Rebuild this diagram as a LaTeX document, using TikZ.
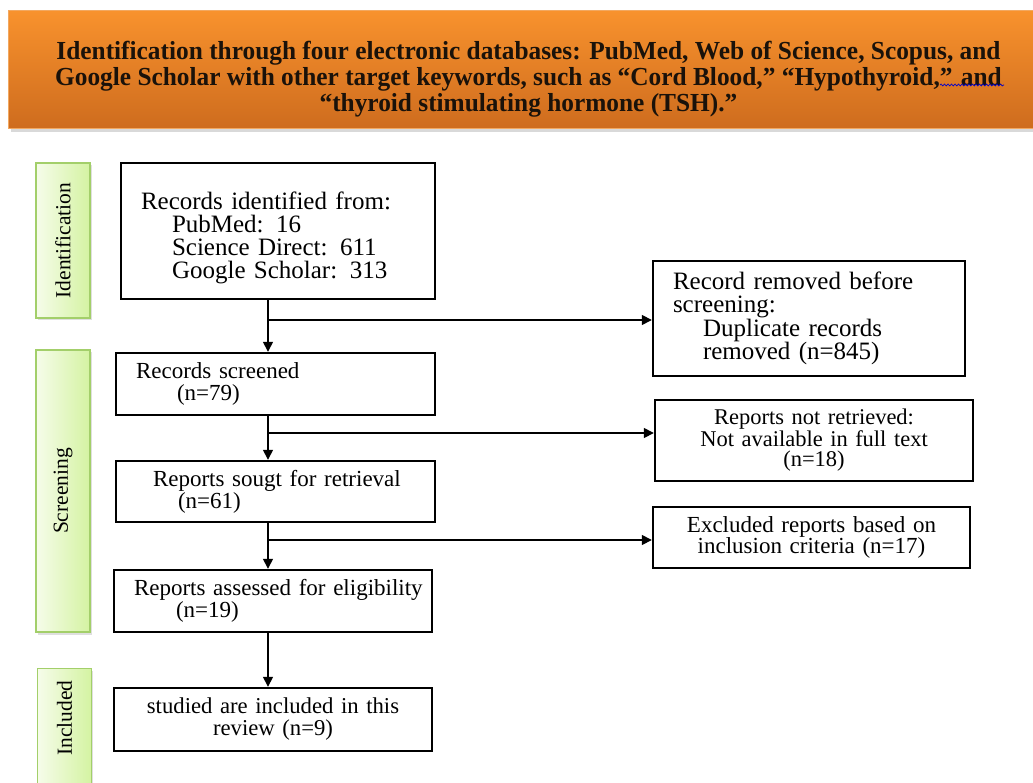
\documentclass[tikz,border=0pt]{standalone}
\usepackage{fontspec}
\setmainfont{Liberation Serif}
\usetikzlibrary{arrows.meta,shadows,decorations.pathmorphing}
\definecolor{orTop}{HTML}{F8922D}
\definecolor{orBot}{HTML}{CE6C1E}
\definecolor{orEdge}{HTML}{F2A860}
\definecolor{grL}{HTML}{F6FCEA}
\definecolor{grR}{HTML}{D4F3A2}
\definecolor{grEdge}{HTML}{A3CF6A}
\definecolor{titleInk}{HTML}{1A120A}
\begin{document}
\begin{tikzpicture}[x=1pt,y=-1pt,
  txt/.style={font=\fontsize{23}{22.5}\selectfont},
  bigtxt/.style={font=\fontsize{25}{23}\selectfont},
  box/.style={draw=black,line width=2.4pt,txt,inner xsep=20pt,inner ysep=0pt},
  lbox/.style={draw=grEdge,line width=1.3pt,left color=grL,right color=grR,
     minimum width=54pt,drop shadow={shadow xshift=1.5pt,shadow yshift=-2.5pt,opacity=0.25}},
  ltxt/.style={rotate=90,font=\fontsize{21.5}{24}\selectfont},
  conn/.style={line width=1.5pt,-{Triangle[width=10pt,length=10pt]}},
  branch/.style={line width=1.5pt}
]
\useasboundingbox (0,0) rectangle (1033,783);
\clip (0,0) rectangle (1033,783);

% banner
\node[draw=orEdge,line width=1pt,top color=orTop,bottom color=orBot,
  minimum width=1040pt,minimum height=118pt,inner sep=0pt,anchor=north west,
  drop shadow={shadow xshift=2pt,shadow yshift=-4pt,opacity=0.3}] (banner) at (8,10) {};
\node[text=titleInk,align=center,inner sep=0pt] (title) at (528.5,80)
  {\scalebox{0.975}[1]{\fontsize{26}{25.5}\selectfont\bfseries
   \begin{tabular}{@{}c@{}}
   Identification through four electronic databases: PubMed, Web of Science, Scopus, and\\
   Google Scholar with other target keywords, such as “Cord Blood,” “Hypothyroid,”\,\,and\\
   “thyroid stimulating hormone (TSH).”
   \end{tabular}}};

% phase labels
\node[lbox,minimum height=155pt] (lid) at (63,240.5) {};
\node[ltxt] (lidt) at (lid.center) {Identification};
\node[lbox,minimum height=282pt] (lsc) at (63,491) {};
\node[ltxt] (lsct) at (lsc.center) {Screening};
\node[lbox,minimum height=140pt,anchor=north] (lin) at (64.5,668) {};
\node[ltxt] (lint) at (64.5,718) {Included};

% main boxes
\node[box,bigtxt,text width=274pt,minimum height=136pt,align=left] (b1) at (278,231)
 {\mbox{\rule{0pt}{31pt}Records identified from:}\\
  \mbox{\hspace*{31pt}PubMed: 16}\\
  \mbox{\hspace*{31pt}Science Direct: 611}\\
  \mbox{\hspace*{31pt}Google Scholar: 313}};
\node[box,text width=279pt,minimum height=62pt,align=left,
  font=\fontsize{23}{22}\selectfont] (b2) at (275.5,384)
 {\mbox{Records screened}\\ \mbox{\hspace*{41pt}(n=79)}};
\node[box,text width=279pt,minimum height=61pt,align=left,
  font=\fontsize{23}{22}\selectfont] (b3) at (275.5,491.5)
 {\mbox{\hspace*{17pt}Reports sougt for retrieval}\\ \mbox{\hspace*{42pt}(n=61)}};
\node[box,text width=278pt,minimum height=62pt,align=left,
  font=\fontsize{23}{22}\selectfont] (b4) at (273,601)
 {\mbox{Reports assessed for eligibility}\\ \mbox{\hspace*{42pt}(n=19)}};
\node[box,text width=278pt,minimum height=63pt,align=center,
  font=\fontsize{22.7}{22}\selectfont] (b5) at (273,719.5)
 {studied are included in this\\ review (n=9)};

% side boxes
\node[box,text width=272pt,minimum height=115pt,align=left,
  font=\fontsize{25}{23.5}\selectfont] (rm) at (809,318.5)
 {\mbox{Record removed before}\\ \mbox{screening:}\\
  \mbox{\hspace*{30pt}Duplicate records}\\
  \mbox{\hspace*{30pt}removed (n=845)}};
\node[box,text width=278pt,minimum height=81pt,align=center,
  font=\fontsize{22.5}{20.5}\selectfont] (nr) at (814,440.5)
 {Reports not retrieved:\\ Not available in full text\\ (n=18)};
\node[box,text width=277pt,minimum height=61pt,align=center,
  font=\fontsize{23}{21}\selectfont] (ex) at (811.5,537.5)
 {Excluded reports based on\\ inclusion criteria (n=17)};

% spine
\coordinate (sp) at (268,0);
\coordinate (j1) at (268,320);
\coordinate (j2) at (268,433);
\coordinate (j3) at (268,540);

\draw[conn] (b1.south -| sp) -- (b2.north -| sp);
\draw[conn] (b2.south -| sp) -- (b3.north -| sp);
\draw[conn] (b3.south -| sp) -- (b4.north -| sp);
\draw[conn] (b4.south -| sp) -- (b5.north -| sp);
\draw[conn] (j1) -- (j1 -| rm.west);
\draw[conn] (j2) -- (j2 -| nr.west);
\draw[conn] (j3) -- (j3 -| ex.west);

% spell-check squiggle
\draw[blue!80!black,line width=0.7pt,decorate,
  decoration={snake,amplitude=0.9pt,segment length=3.5pt}] (940,85) -- (1004,85);
\end{tikzpicture}
\end{document}
